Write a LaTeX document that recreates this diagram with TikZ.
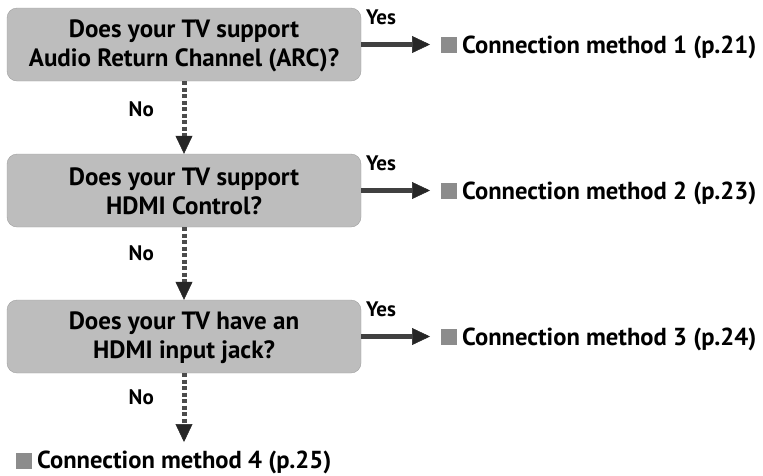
\documentclass[tikz,border=0pt]{standalone}
\usepackage{fontspec}
\setmainfont{PT Sans}
\usetikzlibrary{arrows.meta}
\definecolor{boxgray}{gray}{0.74}
\definecolor{sqgray}{gray}{0.55}
\newcommand{\gsq}{{\color{sqgray}\rule{16pt}{16pt}}\hspace{5pt}}
\begin{document}
\begin{tikzpicture}[x=1pt,y=-1pt,
  qbox/.style={draw=boxgray!85!black, fill=boxgray, rounded corners=10pt,
    minimum width=354pt, minimum height=73pt, align=center, inner sep=0pt,
    font=\bfseries\fontsize{25}{29}\selectfont},
  result/.style={anchor=base west, inner sep=0pt, font=\bfseries\fontsize{24.6}{29}\selectfont},
  lab/.style={inner sep=0pt, font=\bfseries\fontsize{21}{24}\selectfont},
  yesarrow/.style={line width=4.5pt, black!75, -{Triangle[length=18pt,width=17pt,color=black!85,fill=black!85,line width=0.5pt]}},
  noarrow/.style={line width=5pt, black!70, dash pattern=on 4pt off 2.5pt,
    -{Triangle[length=18pt,width=17pt,color=black!85,fill=black!85,line width=0.5pt]}}
]
\useasboundingbox (0,0) rectangle (763,475);

\node[qbox] (b1) at (184,44.5) {\rule{0pt}{20pt}Does your TV support\\Audio Return Channel (ARC)?};
\node[qbox] (b2) at (184,190.5) {\rule{0pt}{20pt}Does your TV support\\HDMI Control?};
\node[qbox] (b3) at (184,336.5) {\rule{0pt}{20pt}Does your TV have an\\HDMI input jack?};

\node[result] (r1) at (441,53) {\gsq Connection method 1 (p.21)};
\node[result] (r2) at (441,199) {\gsq Connection method 2 (p.23)};
\node[result] (r3) at (441,345) {\gsq Connection method 3 (p.24)};
\node[result] (r4) at (16,468.5) {\gsq Connection method 4 (p.25)};

\coordinate (t1) at (430,44.5);
\coordinate (t2) at (430,190.5);
\coordinate (t3) at (430,336.5);
\coordinate (t4) at (184,442);

\draw[yesarrow] (b1.east) -- (t1);
\draw[yesarrow] (b2.east) -- (t2);
\draw[yesarrow] (b3.east) -- (t3);

\draw[noarrow] (b1.south) -- (b2.north);
\draw[noarrow] (b2.south) -- (b3.north);
\draw[noarrow] (b3.south) -- (t4);

\node[lab, anchor=base west] (y1) at (366,24) {Yes};
\node[lab, anchor=base west] (y2) at (366,170) {Yes};
\node[lab, anchor=base west] (y3) at (366,316) {Yes};

\node[lab, anchor=base east] (n1) at (154,116) {No};
\node[lab, anchor=base east] (n2) at (154,260) {No};
\node[lab, anchor=base east] (n3) at (154,404) {No};
\end{tikzpicture}
\end{document}
